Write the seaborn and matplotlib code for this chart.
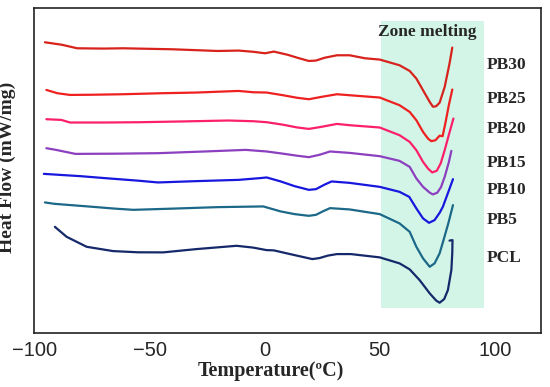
import matplotlib.pyplot as plt
import numpy as np
import pandas as pd
import seaborn as sns

# DSC curves (temperature in °C, heat flow in arbitrary offset units)
t_pb30 = [-95.4, -88.0, -81.4, -70.0, -61.6, -40.0, -20.4, -11.3, -5.0, 0.2, 4.0, 10.0, 15.0, 19.2, 22.3,
          26.0, 31.4, 36.9, 43.6, 50.0, 58.6, 63.0, 65.9, 68.8, 71.7, 73.1, 74.5, 76.0, 78.2, 80.3, 81.5]
h_pb30 = [291.0, 288.5, 285.0, 284.7, 285.0, 284.0, 282.3, 282.7, 281.5, 280.0, 281.7, 278.5, 275.0, 272.3, 272.7,
          275.5, 278.0, 278.0, 275.0, 273.7, 268.0, 262.3, 254.7, 243.0, 231.3, 226.5, 227.0, 230.5, 246.3, 269.7, 285.7]

t_pb25 = [-94.8, -90.0, -84.5, -75.0, -61.6, -45.0, -29.6, -11.3, -5.0, 0.9, 8.0, 14.0, 19.2, 25.0, 31.4,
          36.9, 50.0, 58.6, 63.0, 65.9, 68.8, 71.0, 72.4, 74.2, 76.0, 77.3, 78.5, 80.0, 81.5]
h_pb25 = [243.3, 240.0, 238.3, 238.5, 239.0, 240.0, 240.7, 242.3, 241.0, 240.7, 238.0, 235.5, 234.0, 236.5, 239.0,
          238.0, 235.7, 228.0, 221.3, 213.0, 201.3, 194.5, 192.0, 193.0, 197.5, 197.0, 210.0, 228.0, 243.7]

t_pb20 = [-94.8, -88.3, -84.5, -70.0, -54.0, -35.0, -15.9, -5.0, 0.9, 8.0, 14.0, 19.2, 25.0, 31.4, 36.9,
          50.0, 58.6, 63.0, 65.9, 68.8, 71.0, 72.8, 74.8, 76.5, 78.2, 80.2, 82.0]
h_pb20 = [214.0, 213.3, 210.7, 210.7, 211.0, 211.8, 212.7, 212.0, 211.0, 208.5, 205.8, 204.3, 206.5, 209.3, 208.0,
          205.7, 198.0, 191.3, 183.0, 171.3, 164.5, 160.7, 162.5, 170.0, 183.0, 200.0, 214.7]

t_pb15 = [-94.8, -90.6, -82.2, -65.0, -46.3, -25.0, -8.2, 0.9, 8.0, 14.0, 19.2, 24.0, 28.4, 36.9, 50.0,
          58.6, 63.0, 65.9, 68.8, 71.7, 73.1, 75.0, 76.6, 78.2, 80.0, 81.1]
h_pb15 = [185.0, 183.3, 179.3, 179.5, 180.0, 181.8, 183.3, 181.7, 179.5, 177.5, 176.0, 178.5, 181.7, 180.3, 177.0,
          172.3, 166.3, 154.7, 146.3, 140.5, 138.7, 140.5, 146.0, 156.3, 171.0, 182.3]

t_pb10 = [-95.9, -80.0, -69.2, -55.0, -46.3, -30.0, -11.3, -2.2, 0.9, 7.0, 13.0, 19.2, 22.3, 26.0, 29.1,
          36.9, 50.0, 58.6, 62.8, 65.9, 68.8, 71.4, 73.8, 76.0, 77.4, 79.6, 81.8]
h_pb10 = [159.3, 157.0, 155.0, 152.5, 150.7, 152.0, 153.3, 155.0, 155.7, 151.7, 147.0, 143.3, 144.0, 148.5, 151.7,
          150.3, 146.3, 141.3, 136.3, 124.7, 114.7, 110.3, 113.0, 120.3, 126.3, 140.0, 154.0]

t_pb5 = [-95.4, -91.3, -76.8, -65.0, -57.0, -40.0, -20.4, -0.6, 7.0, 13.0, 19.2, 22.3, 25.5, 28.4, 36.9,
         50.0, 58.6, 63.0, 65.9, 68.8, 71.7, 73.8, 76.0, 77.7, 79.8, 81.8]
h_pb5 = [130.7, 129.3, 126.7, 124.5, 123.3, 124.5, 126.0, 126.7, 121.7, 119.0, 117.3, 118.3, 122.0, 125.0, 123.7,
         119.0, 109.7, 101.3, 86.3, 74.7, 66.3, 69.7, 79.7, 93.0, 110.0, 128.0]

t_pcl = [-91.1, -86.0, -77.3, -65.8, -55.0, -44.1, -29.6, -12.2, -5.0, 0.8, 4.0, 12.0, 20.7, 23.8, 27.5,
         31.4, 37.5, 50.0, 58.6, 63.0, 67.3, 71.7, 74.5, 76.0, 78.0, 79.6, 81.1, 81.5, 81.6, 80.3]
h_pcl = [106.3, 96.3, 86.3, 82.0, 80.8, 80.7, 84.0, 87.3, 85.5, 83.0, 82.7, 78.5, 74.0, 75.0, 77.5,
         79.0, 79.0, 75.7, 69.7, 63.7, 53.0, 39.7, 32.5, 30.3, 34.0, 43.0, 63.0, 80.0, 93.0, 92.5]

samples = ['PB30', 'PB25', 'PB20', 'PB15', 'PB10', 'PB5', 'PCL']
label_y = [268, 234.7, 204, 169.7, 143, 113, 74.7]
colors = ['#d8221c', '#ee2020', '#fb1f6c', '#8c3fbf', '#1717de', '#1c6888', '#15296a']

curves = [(t_pb30, h_pb30), (t_pb25, h_pb25), (t_pb20, h_pb20), (t_pb15, h_pb15),
          (t_pb10, h_pb10), (t_pb5, h_pb5), (t_pcl, h_pcl)]
frames = []
for name, (t, h) in zip(samples, curves):
    frames.append(pd.DataFrame({'T': t, 'HF': h, 'sample': name, 'order': np.arange(len(t))}))
df = pd.concat(frames, ignore_index=True)

sns.set_style('white')
fig = plt.figure(figsize=(5.5, 3.87), dpi=100)
ax = fig.add_axes([0.0625, 0.1395, 0.921, 0.839])

# melting zone band
ax.fill_between([50.4, 95.2], 25, 312, color='#d2f5e7', zorder=0, linewidth=0)

sns.lineplot(data=df, x='T', y='HF', hue='sample', palette=dict(zip(samples, colors)),
             sort=False, estimator=None, units='sample', linewidth=1.6, legend=False, ax=ax)

serif = ['Liberation Serif', 'DejaVu Serif']
for name, y in zip(samples, label_y):
    ax.text(96.4, y, name, fontsize=12.5, fontweight='bold', family=serif, va='center', ha='left')
ax.text(70.8, 301, 'Zone melting', fontsize=12.5, fontweight='bold', family=serif,
        va='center', ha='center')

ax.set_xlim(-100, 120)
ax.set_ylim(0, 325)
ax.set_xticks([-100, -50, 0, 50, 100])
ax.set_xticklabels(['\u2212100', '\u221250', '0', '50', '100'], family=['Liberation Sans'], fontsize=14.5)
ax.set_yticks([])
ax.tick_params(axis='x', direction='out', length=3, width=1, color='#888888', pad=3)
ax.set_xlabel('Temperature(ºC)', fontsize=14.5, fontweight='bold', family=serif, labelpad=0)
ax.xaxis.set_label_coords(0.467, -0.085, transform=ax.transAxes)
ax.set_ylabel('Heat Flow (mW/mg)', fontsize=14, fontweight='bold', family=serif)
ax.yaxis.set_label_coords(-0.036, 0.51, transform=ax.transAxes)
for s in ax.spines.values():
    s.set_color('#222222')
    s.set_linewidth(1.2)

fig.savefig('out.png', dpi=100)
